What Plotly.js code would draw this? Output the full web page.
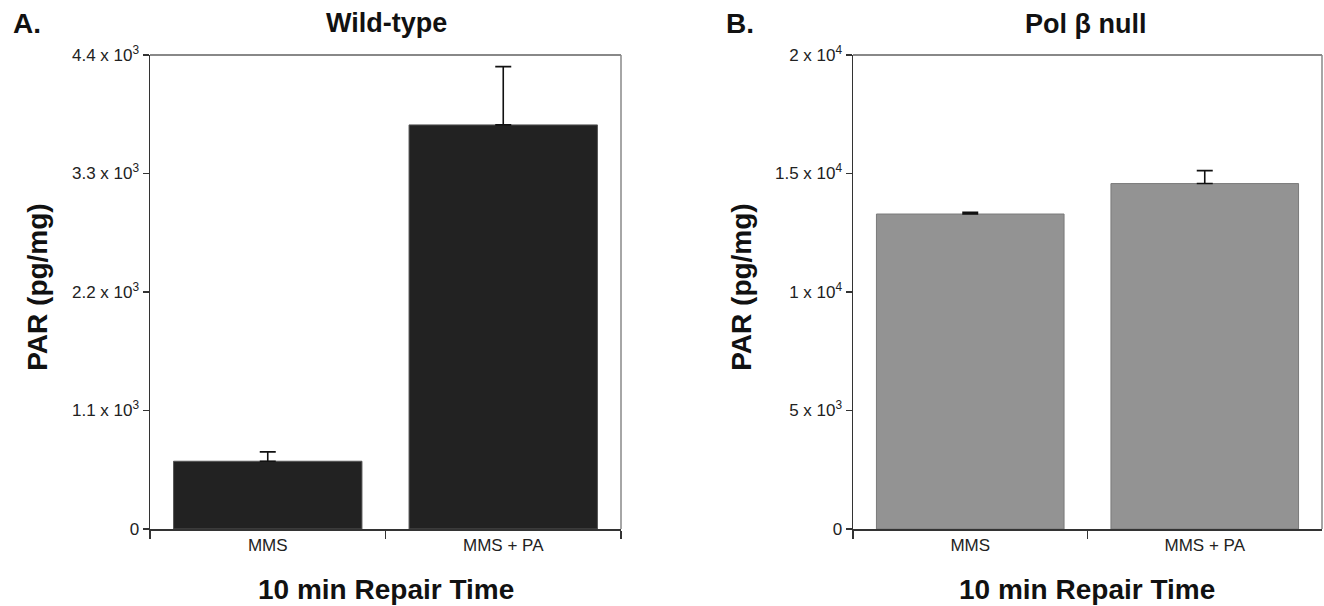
<!DOCTYPE html>
<html>
<head>
<meta charset="utf-8">
<script src="https://cdn.plot.ly/plotly-3.0.1.min.js"></script>
<style>html,body{margin:0;padding:0;background:#fff;}#chart{width:1324px;height:606px;}</style>
</head>
<body>
<div id="chart"></div>
<script>
// Data
const categories = ["MMS", "MMS + PA"];
const wildTypeValues = [629, 3751];
const wildTypeErrors = [87, 541];
const polBetaValues = [13290, 14575];
const polBetaErrors = [70, 548];
const leftTickVals = [0, 1100, 2200, 3300, 4400];
const leftTickText = ["0", "1.1 x 10<sup>3</sup>", "2.2 x 10<sup>3</sup>", "3.3 x 10<sup>3</sup>", "4.4 x 10<sup>3</sup>"];
const rightTickVals = [0, 5000, 10000, 15000, 20000];
const rightTickText = ["0", "5 x 10<sup>3</sup>", "1 x 10<sup>4</sup>", "1.5 x 10<sup>4</sup>", "2 x 10<sup>4</sup>"];

const FONT = "Liberation Sans, Arial, Helvetica, sans-serif";

const errStyle = {type: "data", symmetric: false, visible: true, color: "#111", thickness: 1.6, width: 8};

const traces = [
  {
    type: "bar", x: categories, y: wildTypeValues, xaxis: "x", yaxis: "y",
    marker: {color: "#222222", line: {color: "#555555", width: 1}},
    width: 0.8,
    error_y: Object.assign({}, errStyle, {array: wildTypeErrors, arrayminus: [0, 0]}),
    hoverinfo: "skip"
  },
  {
    type: "bar", x: categories, y: polBetaValues, xaxis: "x2", yaxis: "y2",
    marker: {color: "#939393", line: {color: "#7a7a7a", width: 1}},
    width: 0.8,
    error_y: Object.assign({}, errStyle, {array: polBetaErrors, arrayminus: [0, 0]}),
    hoverinfo: "skip"
  }
];

const W = 1324, H = 606, TOP = 55, BOT = 529.5;
const px = v => v / W;
const py = p => (BOT - p) / (BOT - TOP);

const xBase = {
  type: "category", tickson: "boundaries", ticks: "outside", ticklen: 8, tickwidth: 1.2, tickcolor: "#333",
  showline: true, linecolor: "#333", linewidth: 1.5, showgrid: false, zeroline: false,
  range: [-0.5, 1.5], tickfont: {family: FONT, size: 17, color: "#222"}, fixedrange: true
};
const yBase = {
  ticks: "outside", ticklen: 6, tickwidth: 1.2, tickcolor: "#333",
  showline: true, linecolor: "#333", linewidth: 1.5, showgrid: false, zeroline: false,
  tickfont: {family: FONT, size: 17, color: "#222"}, fixedrange: true
};

function ann(text, x, y, size, angle) {
  return {text: text, xref: "paper", yref: "paper", x: px(x), y: py(y), xanchor: "center", yanchor: "middle",
          textangle: angle || 0, showarrow: false, font: {family: FONT, size: size, color: "#111"}};
}

const layout = {
  width: W, height: H,
  margin: {l: 0, r: 0, t: TOP, b: H - BOT, pad: 0},
  paper_bgcolor: "#fff", plot_bgcolor: "#fff",
  showlegend: false,
  bargap: 0.2,
  xaxis: Object.assign({}, xBase, {domain: [px(150), px(621)], anchor: "y"}),
  yaxis: Object.assign({}, yBase, {range: [0, 4400], tickvals: leftTickVals, ticktext: leftTickText, anchor: "x"}),
  xaxis2: Object.assign({}, xBase, {domain: [px(853), px(1322)], anchor: "y2"}),
  yaxis2: Object.assign({}, yBase, {range: [0, 20000], tickvals: rightTickVals, ticktext: rightTickText, anchor: "x2"}),
  shapes: [
    {type: "line", xref: "x domain", yref: "y domain", x0: 0, x1: 1, y0: 1, y1: 1, line: {color: "#888", width: 2}},
    {type: "line", xref: "x domain", yref: "y domain", x0: 1, x1: 1, y0: 0, y1: 1, line: {color: "#888", width: 1.5}},
    {type: "line", xref: "x2 domain", yref: "y2 domain", x0: 0, x1: 1, y0: 1, y1: 1, line: {color: "#888", width: 2}},
    {type: "line", xref: "x2 domain", yref: "y2 domain", x0: 1, x1: 1, y0: 0, y1: 1, line: {color: "#888", width: 1.5}}
  ],
  annotations: [
    ann("<b>A.</b>", 27, 23, 28),
    ann("<b>Wild-type</b>", 386, 23, 27),
    ann("<b>B.</b>", 740, 23, 28),
    ann("<b>Pol β null</b>", 1085, 24, 27),
    ann("<b>PAR (pg/mg)</b>", 38, 288, 28, -90),
    ann("<b>PAR (pg/mg)</b>", 742, 288, 28, -90),
    ann("<b>10 min Repair Time</b>", 386, 590, 28),
    ann("<b>10 min Repair Time</b>", 1087, 590, 28)
  ]
};

Plotly.newPlot("chart", traces, layout, {displayModeBar: false, staticPlot: true});
</script>
</body>
</html>
